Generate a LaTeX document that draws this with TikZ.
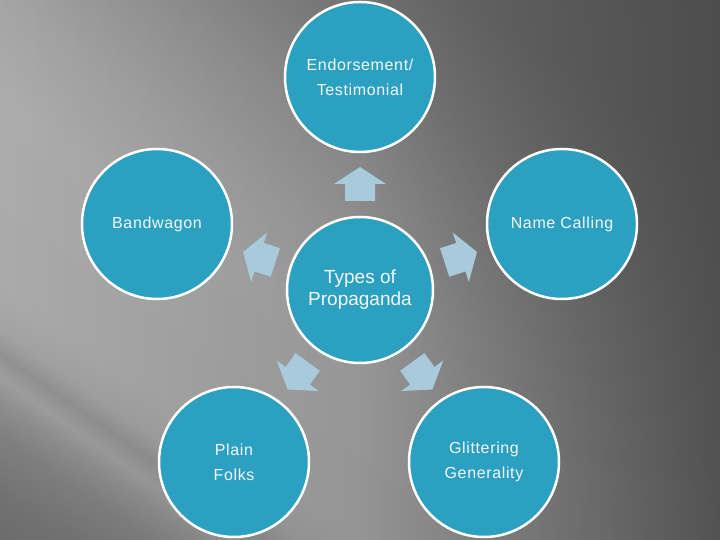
\documentclass[tikz,border=0pt]{standalone}
\usepackage{fontspec}
\setmainfont{Liberation Sans}
\newfontfamily\spaced[LetterSpace=4]{Liberation Sans}
\usetikzlibrary{fadings}
\definecolor{circfill}{RGB}{44,160,192}
\definecolor{arrfill}{RGB}{168,202,218}
\definecolor{txt}{RGB}{242,246,248}
\definecolor{bgdark}{RGB}{74,74,74}
\pgfdeclarehorizontalshading{bgbands}{100bp}{
  color(0bp)=(black!60);
  color(25.3bp)=(black!58);
  color(28.2bp)=(black!55);
  color(31.1bp)=(black!49);
  color(32.6bp)=(black!43);
  color(33.6bp)=(black!37);
  color(34.7bp)=(black!42);
  color(35.8bp)=(black!35);
  color(37.6bp)=(black!32);
  color(46.4bp)=(black!31);
  color(50.7bp)=(black!34);
  color(55.8bp)=(black!40);
  color(60.2bp)=(black!47);
  color(66bp)=(black!55);
  color(100bp)=(black!62)}
\begin{tikzfadingfrompicture}[name=rightfade]
  \shade[left color=transparent!100, right color=transparent!0, middle color=transparent!75] (0,0) rectangle (2,2);
\end{tikzfadingfrompicture}
\tikzset{
  topic/.style={circle, draw=white, line width=2.5pt, fill=circfill, minimum size=150pt, inner sep=0pt, text=txt, font=\spaced\fontsize{16}{25}\selectfont, align=center},
  hub/.style={topic, minimum size=146pt, font=\fontsize{19}{22}\selectfont},
  blockarrow/.style={fill=arrfill}
}
\begin{document}
\begin{tikzpicture}[x=1pt,y=1pt]
\useasboundingbox (0,0) rectangle (720,540);
% background
\begin{scope}
  \clip (0,0) rectangle (720,540);
  \shade[shading=bgbands, shading angle=55] (-90,-180) rectangle (810,720);
  \fill[bgdark, path fading=rightfade] (0,0) rectangle (720,540);
\end{scope}
% nodes
\node[hub] (hub) at (360,250) {Types of\\Propaganda};
\node[topic] (endorse) at (360,463) {Endorsement/\\Testimonial};
\node[topic] (band) at (157,316) {Bandwagon};
\node[topic] (name) at (562,316) {Name Calling};
\node[topic] (plain) at (234,78) {Plain\\Folks};
\node[topic] (glitter) at (484,78) {Glittering\\Generality};
% block arrows
\foreach \a in {90,162,234,306,18}{
  \begin{scope}[shift={(hub.center)}, rotate=\a]
    \fill[blockarrow] (89,-15) -- (106,-15) -- (106,-26) -- (123,0) -- (106,26) -- (106,15) -- (89,15) -- cycle;
  \end{scope}
}
\end{tikzpicture}
\end{document}
